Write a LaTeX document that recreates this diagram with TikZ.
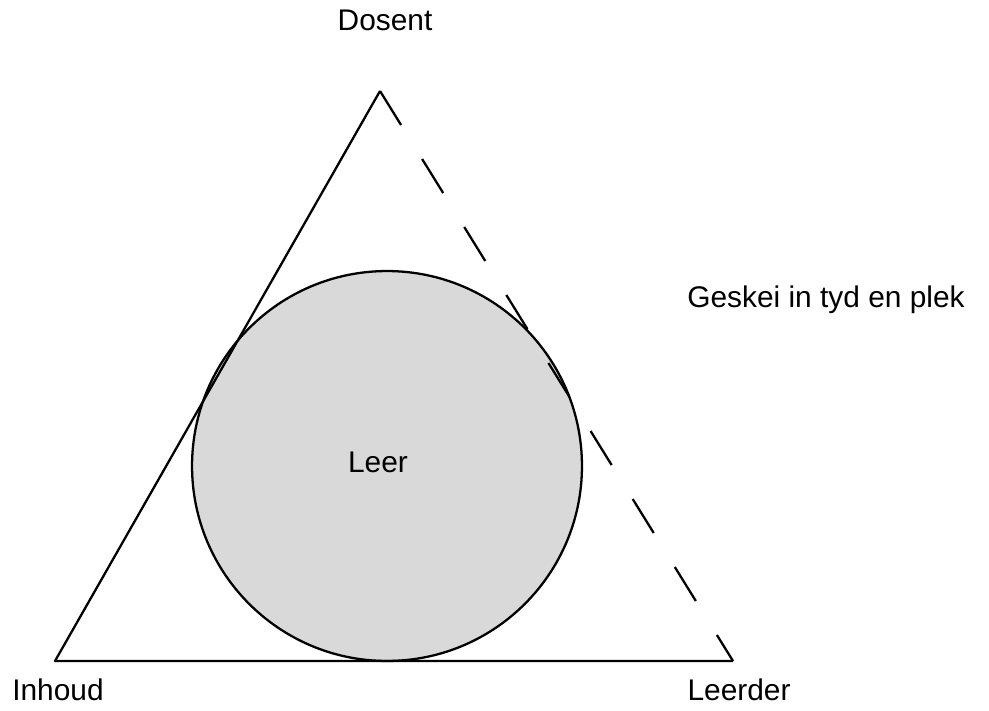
\documentclass[tikz,border=0pt]{standalone}
\usepackage{fontspec}
\setmainfont{Liberation Sans}
\begin{document}
\begin{tikzpicture}[x=0.02cm, y=-0.02cm, font=\fontsize{17}{20}\selectfont,
		side/.style={line width=1.3pt, line join=round},
		gap/.style={side, dash pattern=on 0.8cm off 0.8cm}]
	\useasboundingbox (0,0) rectangle (989,710);
	\coordinate (top) at (380,91);
	\coordinate (left) at (55,661);
	\coordinate (right) at (733,661);
	\coordinate (mid) at (387,466);
	\draw[side, fill=black!15] (mid) circle[radius=3.9cm];
	\draw[side] (right) -- (left) -- (top);
	\draw[gap] (top) -- (right);
	\node (dosent) at (385,20) {Dosent};
	\node (inhoud) at (58,690) {Inhoud};
	\node (leerder) at (739,690) {Leerder};
	\node (leer) at (378,462) {Leer};
	\node (geskei) at (826,300) {Geskei in tyd en plek};
\end{tikzpicture}
\end{document}
